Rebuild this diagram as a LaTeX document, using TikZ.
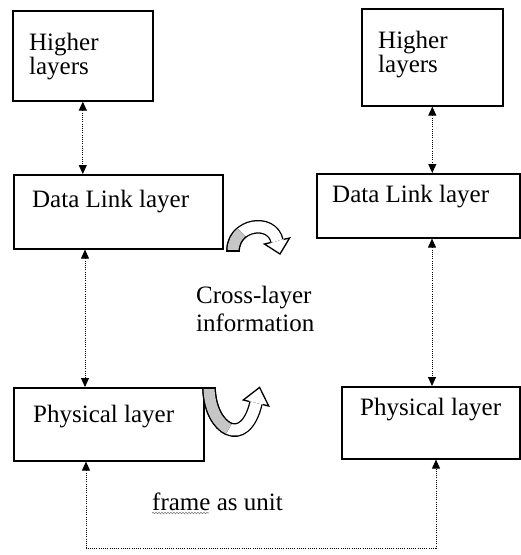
\documentclass[tikz,border=0pt]{standalone}
\usepackage{fontspec}
\setmainfont{Liberation Serif}
\usetikzlibrary{arrows.meta,decorations.pathmorphing}

\begin{document}
\begin{tikzpicture}[x=1pt,y=-1pt,
  layerbox/.style={draw=black, line width=1.6pt, rectangle, anchor=north west, inner sep=0pt},
  txt/.style={font=\fontsize{25}{24}\selectfont, inner sep=0pt},
  lbl/.style={txt, align=left, anchor=north west},
  link/.style={line width=0.9pt, dash pattern=on 1.1pt off 1.1pt,
    {Triangle[length=9pt,width=8pt]}-{Triangle[length=9pt,width=8pt]}},
  band/.style={line width=1.3pt, double distance=11pt, line cap=butt},
  headline/.style={line width=1.3pt, line join=miter},
  ]
\useasboundingbox (0,0) rectangle (521,555);

% protocol stack boxes
\node[layerbox, minimum width=140pt, minimum height=90pt] (hlL) at (12,10) {};
\node[layerbox, minimum width=209pt, minimum height=74pt] (dlL) at (13,174) {};
\node[layerbox, minimum width=190pt, minimum height=73pt] (plL) at (13,387) {};
\node[layerbox, minimum width=141pt, minimum height=97pt] (hlR) at (361,8) {};
\node[layerbox, minimum width=203pt, minimum height=64pt] (dlR) at (316,173) {};
\node[layerbox, minimum width=178pt, minimum height=72pt] (plR) at (341,386) {};

% box texts
\node[lbl] (thlL) at (29,33) {Higher\\layers};
\node[txt, anchor=base west] (tdlL) at (32,207) {Data Link layer};
\node[txt, anchor=base west] (tplL) at (33,422) {Physical layer};
\node[lbl] (thlR) at (378,31) {Higher\\layers};
\node[txt, anchor=base west] (tdlR) at (332,202) {Data Link layer};
\node[txt, anchor=base west] (tplR) at (360,415) {Physical layer};

% free labels
\node[lbl, font=\fontsize{25}{28}\selectfont] (xinfo) at (196,286) {Cross-layer\\information};
\node[txt, anchor=base west] (frame) at (152,510) {frame as unit};
\draw[decorate, decoration={snake, amplitude=0.8pt, segment length=3pt},
  gray, line width=0.6pt] ([yshift=-3pt]frame.base west) -- ++(57,0);

% dotted interfaces between layers
\coordinate (cL) at (85,0);
\coordinate (cR) at (432,0);
\draw[link] (hlL.south) -- (hlL.south |- dlL.north);
\draw[link] (cL |- dlL.south) -- (cL |- plL.north);
\draw[link] (hlR.south) -- (hlR.south |- dlR.north);
\draw[link] (cR |- dlR.south) -- (cR |- plR.north);
\coordinate (bL) at (86,548);
\coordinate (bR) at (436,548);
\draw[link] (bL |- plL.south) -- (bL) -- (bR) -- (bR |- plR.south);

% cross-layer arrow leaving the data link layer
\fill[white] (264.4,244) -- (280,254) -- (289.6,238) -- cycle;
\draw[band, double=white] (233,251) .. controls (233,224) and (272,218) .. (277,241);
\draw[band, double=gray!45] (233,251) .. controls (233,242.9) and (236.5,236.6) .. (241.5,232.4);
\draw[line width=1.3pt] (226.2,251) -- (239.8,251);
\draw[headline] (270.4,242.6) -- (264.4,244) -- (280,254) -- (289.6,238) -- (283.6,239.4);

% cross-layer arrow leaving the physical layer
\fill[white] (243.3,400) -- (259.6,387.4) -- (268.7,406) -- cycle;
\draw[band, double=white] (209,388) .. controls (210,430) and (245,450) .. (256,403);
\draw[band, double=gray!45] (209,388) .. controls (209.5,409) and (218.5,424.5) .. (228.75,428.9);
\draw[line width=1.3pt] (202.2,388) -- (215.8,388);
\draw[headline] (249.4,401.5) -- (243.3,400) -- (259.6,387.4) -- (268.7,406) -- (262.6,404.5);
\end{tikzpicture}
\end{document}
